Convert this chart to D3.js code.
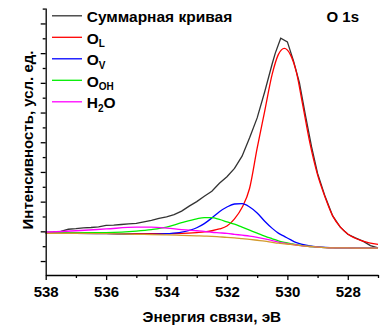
<!DOCTYPE html>
<html>
<head>
<meta charset="utf-8">
<script src="https://cdn.jsdelivr.net/npm/d3@7"></script>
<style>
  body { margin: 0; background: #fff; }
  svg text { font-family: "Liberation Sans", Arial, sans-serif; font-weight: bold; fill: #000; }
</style>
</head>
<body>
<div class="chart"></div>
<script>
// binding energy grid for fitted components (eV)
var energy = [538, 537, 536, 535, 534.5, 534, 533.5, 533, 532.75, 532.5, 532.25, 532,
  531.75, 531.5, 531.25, 531, 530.75, 530.5, 530.3, 530.1, 529.9, 529.7, 529.5,
  529.25, 529, 528.75, 528.5, 528.25, 528, 527.5, 527];

var background = [-0.07, -0.07, -0.08, -0.10, -0.11, -0.12, -0.135, -0.15, -0.16, -0.17, -0.185, -0.20,
  -0.22, -0.245, -0.27, -0.30, -0.33, -0.37, -0.40, -0.42, -0.44, -0.465, -0.49,
  -0.51, -0.53, -0.545, -0.555, -0.56, -0.56, -0.565, -0.565];

var oL = [-0.06, -0.06, -0.07, -0.08, -0.08, -0.08, -0.07, -0.04, -0.02, 0.02, 0.08, 0.18,
  0.42, 0.8, 1.45, 2.8, 4.05, 5.3, 5.95, 6.16, 5.95, 5.35, 4.3,
  2.95, 1.9, 1.15, 0.52, 0.15, -0.09, -0.33, -0.44];

var oV = [-0.07, -0.07, -0.08, -0.10, -0.10, -0.08, -0.03, 0.12, 0.26, 0.45, 0.66, 0.82,
  0.92, 0.93, 0.82, 0.62, 0.34, 0.1, -0.06, -0.17, -0.28, -0.38, -0.44,
  -0.49, -0.52, -0.54, -0.55, -0.56, -0.56, -0.565, -0.565];

var oOH = [-0.06, -0.05, -0.04, 0.01, 0.06, 0.14, 0.29, 0.42, 0.46, 0.46, 0.40, 0.32,
  0.24, 0.14, 0.04, -0.06, -0.16, -0.25, -0.32, -0.37, -0.41, -0.45, -0.48,
  -0.51, -0.53, -0.545, -0.555, -0.56, -0.56, -0.565, -0.565];

var h2o = [-0.03, 0.02, 0.08, 0.14, 0.14, 0.11, 0.06, 0.02, 0.0, -0.03, -0.05, -0.07,
  -0.10, -0.13, -0.16, -0.2, -0.25, -0.31, -0.36, -0.4, -0.43, -0.46, -0.49,
  -0.51, -0.53, -0.545, -0.555, -0.56, -0.56, -0.565, -0.565];

// measured envelope
var sumEnergy = [538, 537.75, 537.5, 537.25, 537, 536.75, 536.5, 536.25, 536, 535.75, 535.5, 535.25,
  535, 534.75, 534.5, 534.25, 534, 533.75, 533.5, 533.25, 533, 532.75, 532.5, 532.25,
  532, 531.75, 531.5, 531.25, 531, 530.75, 530.5, 530.4, 530.22, 530, 529.8, 529.6,
  529.4, 529.2, 529, 528.75, 528.5, 528.25, 528, 527.75, 527.5, 527.25, 527];
var sumCounts = [-0.03, -0.02, 0.0, 0.07, 0.09, 0.12, 0.13, 0.15, 0.20, 0.21, 0.23, 0.25,
  0.27, 0.32, 0.37, 0.44, 0.49, 0.56, 0.68, 0.85, 1.0, 1.18, 1.35, 1.62,
  1.84, 2.12, 2.53, 3.15, 3.82, 4.7, 5.65, 6.0, 6.5, 6.38, 5.75, 5.0,
  3.9, 2.85, 1.95, 1.17, 0.52, 0.14, -0.1, -0.22, -0.33, -0.48, -0.56];

var xMajor = [538, 536, 534, 532, 530, 528];
var xMinor = [537, 535, 533, 531, 529, 527];
var yMajor = [-1, 0, 1, 2, 3, 4, 5, 6, 7];
var yMinor = [-0.5, 0.5, 1.5, 2.5, 3.5, 4.5, 5.5, 6.5, 7.5];

var legendNames = ["Суммарная кривая", "O|L", "O|V", "O|OH", "H2O"];

var margin = {top: 8, right: 2, bottom: 53, left: 45.7},
    width = 380 - margin.left - margin.right,
    height = 328 - margin.top - margin.bottom;

var svg = d3.select(".chart")
  .append("svg")
    .attr("width", 380)
    .attr("height", 328)
  .append("g")
    .attr("transform", "translate(" + margin.left + "," + margin.top + ")");

var x = d3.scaleLinear().domain([538, 527]).range([0, width]);
var y = d3.scaleLinear().domain([-1.47, 7.52]).range([height, 0]);

function comp(vals) {
  return energy.map(function(e, i) { return {e: e, v: vals[i]}; });
}

var smooth = d3.line()
  .x(function(d) { return x(d.e); })
  .y(function(d) { return y(d.v); })
  .curve(d3.curveMonotoneX);

var plain = d3.line()
  .x(function(d) { return x(d.e); })
  .y(function(d) { return y(d.v); });

var sumData = sumEnergy.map(function(e, i) { return {e: e, v: sumCounts[i]}; });

svg.append("path")
  .datum(sumData)
  .attr("fill", "none")
  .attr("stroke", "#333")
  .attr("stroke-width", 1.3)
  .attr("d", plain);

var series = [
  {vals: oL, color: "#ff0000"},
  {vals: oV, color: "#0000ff"},
  {vals: oOH, color: "#00ee00"},
  {vals: h2o, color: "#ff00ff"},
  {vals: background, color: "#d39a2c"}
];

series.forEach(function(s) {
  svg.append("path")
    .datum(comp(s.vals))
    .attr("fill", "none")
    .attr("stroke", s.color)
    .attr("stroke-width", 1.3)
    .attr("d", smooth);
});

// axes
svg.append("g")
  .attr("transform", "translate(0," + height + ")")
  .call(d3.axisBottom(x).tickValues(xMinor).tickSize(3).tickFormat("").tickSizeOuter(0))
  .call(function(g) { g.select(".domain").remove(); });

var xAxis = svg.append("g")
  .attr("transform", "translate(0," + height + ")")
  .call(d3.axisBottom(x).tickValues(xMajor).tickSize(5).tickSizeOuter(0).tickPadding(6));
xAxis.selectAll("text")
  .attr("font-size", "15px")
  .attr("font-family", null);

svg.append("g")
  .call(d3.axisLeft(y).tickValues(yMinor).tickSize(3).tickFormat("").tickSizeOuter(0))
  .call(function(g) { g.select(".domain").remove(); });

svg.append("g")
  .call(d3.axisLeft(y).tickValues(yMajor).tickSize(5).tickFormat("").tickSizeOuter(0));

svg.selectAll(".domain, .tick line")
  .attr("stroke", "#000")
  .attr("stroke-width", 1.3);

// axis titles
svg.append("text")
  .attr("x", width / 2)
  .attr("y", 321.5 - margin.top)
  .attr("text-anchor", "middle")
  .attr("font-size", "15.3px")
  .text("Энергия связи, эВ");

svg.append("text")
  .attr("transform", "translate(" + (32.5 - margin.left) + "," + (140 - margin.top) + ") rotate(-90)")
  .attr("text-anchor", "middle")
  .attr("font-size", "15px")
  .text("Интенсивность, усл. ед.");

svg.append("text")
  .attr("x", 359 - margin.left)
  .attr("y", 21.7 - margin.top)
  .attr("text-anchor", "end")
  .attr("font-size", "15px")
  .text("O 1s");

// legend
var legColors = ["#333", "#ff0000", "#0000ff", "#00ee00", "#ff00ff"];
var leg = svg.append("g").attr("transform", "translate(" + (-margin.left) + "," + (-margin.top) + ")");

legendNames.forEach(function(name, i) {
  var by = 22.3 + i * 21.5;
  leg.append("line")
    .attr("x1", 52).attr("x2", 82)
    .attr("y1", by - 6.5).attr("y2", by - 6.5)
    .attr("stroke", legColors[i])
    .attr("stroke-width", 1.3);
  var t = leg.append("text")
    .attr("x", 86.7)
    .attr("y", by)
    .attr("font-size", "15.5px");
  if (name.indexOf("|") > -1) {
    var parts = name.split("|");
    t.append("tspan").text(parts[0]);
    t.append("tspan").attr("font-size", "10px").attr("dy", 3.5).text(parts[1]);
  } else if (name === "H2O") {
    t.append("tspan").text("H");
    t.append("tspan").attr("font-size", "10px").attr("dy", 3.5).text("2");
    t.append("tspan").attr("dy", -3.5).text("O");
  } else {
    t.text(name);
  }
});
</script>
</body>
</html>
